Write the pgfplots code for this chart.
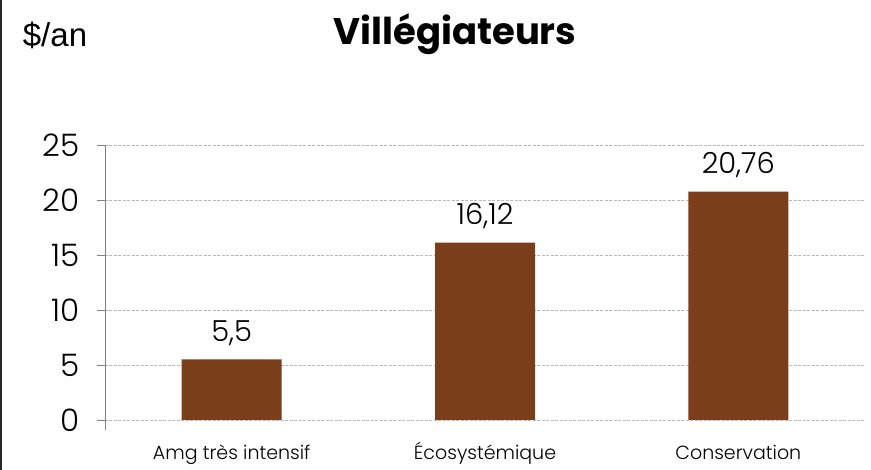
\documentclass[border=0pt]{standalone}
\usepackage{fontspec}
\setmainfont{Poppins}
\newfontfamily\poplight{Poppins Light}
\newfontfamily\arialfont{Liberation Sans}
\usepackage{pgfplots}
\pgfplotsset{compat=1.18}
\definecolor{barbrown}{RGB}{122,62,26}

\begin{document}
\begin{tikzpicture}
\path[use as bounding box] (-105pt,-50pt) rectangle (766pt,420pt);
\draw[black!85, line width=2pt] (-104pt,-50pt) -- (-104pt,420pt);
\begin{axis}[
    at={(0,0)}, anchor=south west,
    scale only axis,
    width=760pt, height=275pt,
    xmin=-0.5, xmax=2.5,
    ymin=0, ymax=25,
    ybar,
    bar width=100pt,
    xtick={0,1,2},
    xticklabels={Amg très intensif, Écosystémique, Conservation},
    ytick={0,5,...,25},
    axis x line*=bottom,
    axis y line*=left,
    x axis line style={draw=none},
    y axis line style={gray, line width=0.6pt},
    xtick style={draw=none},
    ytick style={gray, line width=0.6pt},
    tick align=outside,
    major tick length=8pt,
    ymajorgrids=true,
    grid style={gray!55, line width=0.6pt, dash pattern=on 3pt off 1.5pt},
    /pgf/number format/assume math mode=true,
    /pgf/number format/use comma,
    yticklabel style={font=\poplight\fontsize{31}{36}\selectfont, xshift=-14pt},
    xticklabel style={font=\poplight\fontsize{19}{23}\selectfont, anchor=base, inner sep=0pt, yshift=-32pt},
    nodes near coords,
    every node near coord/.append style={font=\poplight\fontsize{29}{34}\selectfont, text=black, yshift=10pt},
    clip=false,
]
\addplot[fill=barbrown, draw=none] coordinates {(0,5.5) (1,16.12) (2,20.76)};
\draw[gray, line width=0.6pt] (axis cs:-0.5,0) -- (axis cs:-0.5,-0.9);
\end{axis}
\node[font=\bfseries\fontsize{37}{44}\selectfont] at (350pt,386pt) {Villégiateurs};
\node[font=\arialfont\fontsize{33}{38}\selectfont] at (-50pt,385pt) {\$/an};
\end{tikzpicture}
\end{document}
